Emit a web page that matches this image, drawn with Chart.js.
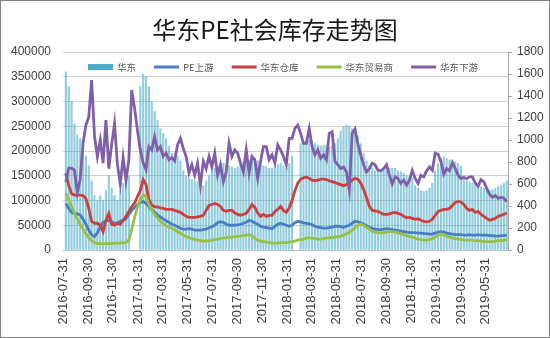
<!DOCTYPE html>
<html>
<head>
<meta charset="utf-8">
<script src="https://cdn.jsdelivr.net/npm/chart.js@4.4.1/dist/chart.umd.min.js"></script>
<style>
  html, body { margin: 0; padding: 0; background: #fff; }
  #wrap { width: 550px; height: 338px; box-sizing: border-box; border: 1px solid #808080; }
  canvas { display: block; }
</style>
</head>
<body>
<div id="wrap"><canvas id="stock" width="548" height="336"></canvas></div>
<script>
// weekly readings, first week 2016-08-07, one value per week
// 华东 total (bars, left axis); null = holiday weeks with no report
const huadong = [
  360000, 330000, 300000, 255000, 232000, 225000, 210000, 190000, 170000, 140000,
  110000, 100000, 110000, 100000, 120000, 150000, 125000, 110000, 100000, 120000,
  135000, 140000, 150000, null, null, null, 330000, 355000, 350000, 330000,
  300000, 280000, 262000, 245000, 235000, 225000, 210000, 195000, 195000, 190000,
  180000, 160000, 150000, 145000, 142000, 140000, 138000, 132000, 130000, 140000,
  150000, 160000, 165000, 168000, 172000, 175000, 172000, 170000, 168000, 165000,
  168000, 172000, 178000, 180000, 182000, 188000, 186000, 180000, 172000, 170000,
  168000, 165000, 165000, 170000, 172000, 175000, 170000, 165000, 175000, 190000,
  null, null, 215000, 218000, 220000, 222000, 218000, 215000, 212000, 210000,
  212000, 210000, 208000, 210000, 215000, 225000, 240000, 248000, 252000, 250000,
  245000, 238000, 230000, 215000, 195000, 180000, 170000, 165000, 160000, 158000,
  160000, 162000, 165000, 165000, 165000, 165000, 160000, 158000, 155000, 150000,
  148000, 145000, 130000, 125000, 120000, 118000, 120000, 125000, 135000, 160000,
  175000, 185000, 188000, 185000, 182000, 180000, 178000, 175000, 170000, 150000,
  140000, 138000, 135000, 133000, 130000, 128000, 125000, 122000, 120000, 122000,
  125000, 128000, 130000, 135000, 140000
];

// PE上游
const upstream = [
  94000, 84000, 76000, 74000, 73000, 71000, 62000, 52000, 40000, 31000,
  27000, 35000, 47000, 56000, 58000, 60000, 57000, 54000, 55000, 58000,
  60000, 63000, 72000, 80000, 86000, 92000, 96000, 98000, 94000, 88000,
  82000, 76000, 71000, 67000, 63000, 59000, 56000, 52000, 50000, 47000,
  44000, 42000, 42000, 43000, 42000, 40000, 40000, 40000, 41000, 42000,
  45000, 47000, 50000, 55000, 57000, 56000, 52000, 50000, 50000, 50000,
  51000, 52000, 54000, 56000, 60000, 58000, 55000, 52000, 48000, 46000,
  45000, 44000, 43000, 48000, 52000, 54000, 52000, 50000, 48000, 50000,
  55000, 58000, 57000, 55000, 54000, 53000, 51000, 48000, 46000, 45000,
  44000, 44000, 45000, 46000, 48000, 48000, 47000, 46000, 48000, 50000,
  54000, 58000, 57000, 55000, 52000, 49000, 46000, 44000, 42000, 41000,
  41000, 42000, 43000, 42000, 41000, 40000, 39000, 38000, 37000, 36000,
  35000, 35000, 35000, 34000, 34000, 33000, 33000, 32000, 32000, 34000,
  36000, 37000, 36000, 34000, 33000, 32000, 31000, 31000, 31000, 30000,
  30000, 31000, 30000, 30000, 31000, 30000, 30000, 30000, 29000, 29000,
  28000, 28000, 29000, 29000, 30000
];

// 华东仓库
const warehouse = [
  155000, 130000, 114000, 111000, 111000, 111000, 110000, 104000, 84000, 58000,
  54000, 54000, 50000, 37000, 60000, 74000, 52000, 50000, 54000, 52000,
  60000, 68000, 78000, 88000, 95000, 108000, 120000, 142000, 132000, 102000,
  91000, 87000, 87000, 85000, 84000, 82000, 82000, 82000, 80000, 78000,
  76000, 72000, 68000, 66000, 66000, 66000, 67000, 68000, 70000, 80000,
  90000, 92000, 94000, 92000, 88000, 80000, 78000, 80000, 80000, 75000,
  72000, 70000, 72000, 74000, 82000, 92000, 86000, 75000, 68000, 72000,
  68000, 70000, 70000, 78000, 82000, 88000, 80000, 76000, 85000, 100000,
  120000, 135000, 143000, 146000, 147000, 145000, 141000, 140000, 141000, 143000,
  143000, 142000, 140000, 138000, 136000, 134000, 132000, 130000, 132000, 136000,
  141000, 145000, 143000, 135000, 122000, 106000, 88000, 80000, 79000, 78000,
  75000, 72000, 72000, 73000, 75000, 76000, 74000, 72000, 68000, 65000,
  66000, 64000, 62000, 63000, 60000, 58000, 57000, 58000, 62000, 70000,
  78000, 80000, 82000, 82000, 84000, 90000, 96000, 98000, 97000, 92000,
  84000, 80000, 82000, 76000, 78000, 72000, 68000, 64000, 60000, 62000,
  64000, 68000, 70000, 72000, 75000
];

// 华东贸易商
const traders = [
  114000, 100000, 87000, 74000, 63000, 52000, 42000, 33000, 25000, 19000,
  15000, 13000, 13000, 13000, 13000, 13000, 13000, 14000, 14000, 14000,
  15000, 15000, 20000, 42000, 66000, 86000, 102000, 111000, 108000, 92000,
  80000, 72000, 65000, 58000, 53000, 49000, 46000, 44000, 41000, 37000,
  34000, 30000, 27000, 25000, 23000, 21000, 20000, 19000, 18000, 18000,
  19000, 20000, 21000, 22000, 23000, 24000, 25000, 26000, 26000, 27000,
  27000, 28000, 29000, 30000, 31000, 29000, 23000, 20000, 18000, 17000,
  16000, 15000, 14000, 14000, 14000, 15000, 15000, 15000, 16000, 17000,
  18000, 20000, 21000, 22000, 24000, 25000, 24000, 23000, 22000, 22000,
  23000, 24000, 25000, 25000, 26000, 27000, 28000, 30000, 33000, 36000,
  40000, 45000, 50000, 52000, 50000, 46000, 42000, 38000, 36000, 35000,
  34000, 35000, 36000, 37000, 37000, 36000, 35000, 33000, 31000, 29000,
  27000, 26000, 24000, 22000, 21000, 20000, 20000, 21000, 23000, 26000,
  30000, 32000, 31000, 28000, 26000, 24000, 23000, 22000, 21000, 20000,
  20000, 20000, 20000, 19000, 19000, 18000, 17000, 17000, 17000, 17000,
  18000, 19000, 19000, 20000, 21000
];

// 华东下游 (right axis)
const downstream = [
  620, 745, 745, 725, 520, 640, 970, 1135, 1210, 1545,
  1040, 850, 1000, 790, 1180, 740, 960, 1150, 780, 600,
  840, 630, 820, 1455, 1290, 1090, 910, 790, 730, 940,
  910, 1030, 910, 940, 850, 880, 820, 840, 810, 955,
  1015, 925, 850, 700, 775, 680, 790, 590, 805, 740,
  850, 755, 880, 680, 775, 620, 710, 970, 850, 910,
  880, 790, 710, 910, 700, 850, 820, 650, 805, 940,
  940, 820, 865, 790, 955, 910, 850, 775, 1015, 1015,
  1105, 1135, 1060, 970, 970, 1105, 940, 865, 910, 835,
  865, 820, 1060, 1075, 805, 775, 740, 755, 710, 545,
  1060, 1100, 960, 860, 775, 710, 740, 790, 775, 725,
  720, 740, 775, 680, 600, 665, 650, 605, 635, 590,
  635, 725, 650, 605, 680, 665, 720, 755, 725, 880,
  870, 805, 690, 740, 720, 795, 740, 680, 650, 660,
  650, 665, 665, 610, 580, 640, 620, 560, 505, 480,
  495, 470, 480, 470, 440
];

const tickLabels = [
  '2016-07-31', '2016-09-30', '2016-11-30', '2017-01-31', '2017-03-31', '2017-05-31',
  '2017-07-31', '2017-09-30', '2017-11-30', '2018-01-31', '2018-03-31', '2018-05-31',
  '2018-07-31', '2018-09-30', '2018-11-30', '2019-01-31', '2019-03-31', '2019-05-31'
];

// x axis counts days from 2016-07-31
const dayOf = s => {
  const [y, m, d] = s.split('-').map(Number);
  return (Date.UTC(y, m - 1, d) - Date.UTC(2016, 6, 31)) / 86400000;
};
const firstDay = 7;
const pts = arr => arr.map((v, i) => ({ x: firstDay + 7 * i, y: v }));

Chart.defaults.font.family = "'Liberation Sans', 'Noto Sans CJK SC', sans-serif";
Chart.defaults.color = '#404040';
const cjk = "'Noto Sans CJK SC', sans-serif";

// legend row drawn inside the plot, over the top band
const insideLegend = {
  id: 'insideLegend',
  afterDraw(chart) {
    const { ctx, chartArea } = chart;
    const sets = chart.data.datasets;
    ctx.save();
    ctx.font = '9.5px ' + cjk;
    ctx.textBaseline = 'middle';
    const swatch = 25, gapText = 4, gapItem = 18;
    let x = chartArea.left + 25;
    const y = chartArea.top + 15;
    sets.forEach(ds => {
      if (ds.type === 'line') {
        ctx.fillStyle = ds.borderColor;
        ctx.fillRect(x, y - 1.5, swatch, 3);
      } else {
        ctx.fillStyle = ds.legendColor;
        ctx.fillRect(x, y - 3, swatch, 6);
      }
      ctx.fillStyle = '#595959';
      ctx.fillText(ds.label, x + swatch + gapText, y);
      x += swatch + gapText + ctx.measureText(ds.label).width + gapItem;
    });
    ctx.restore();
  }
};

const lineSet = (label, data, color, axis, order) => ({
  type: 'line', label, data, borderColor: color, backgroundColor: color,
  borderWidth: 2.8, pointRadius: 0, tension: 0, yAxisID: axis, order
});

new Chart(document.getElementById('stock'), {
  type: 'bar',
  data: {
    datasets: [
      { type: 'bar', label: '华东', data: pts(huadong), backgroundColor: 'rgba(75,172,198,0.6)',
        legendColor: '#4bacc6', barThickness: 1.5, yAxisID: 'y', order: 5 },
      lineSet('PE上游', pts(upstream), '#4a7ec4', 'y', 4),
      lineSet('华东仓库', pts(warehouse), '#cc3f3f', 'y', 3),
      lineSet('华东贸易商', pts(traders), '#96c046', 'y', 2),
      lineSet('华东下游', pts(downstream), '#7f5fa8', 'y1', 1)
    ]
  },
  options: {
    responsive: false,
    animation: false,
    layout: { padding: 0 },
    plugins: {
      legend: { display: false },
      tooltip: { enabled: false },
      title: {
        display: true,
        text: '华东PE社会库存走势图',
        color: '#1a1a1a',
        font: { family: cjk, size: 24, weight: 'normal' },
        padding: { top: 14, bottom: 8.2 }
      }
    },
    scales: {
      x: {
        type: 'linear',
        min: 0,
        max: 1088,
        offset: false,
        grid: { display: false, drawTicks: false },
        border: { display: true, color: '#bfbfbf' },
        afterBuildTicks: s => { s.ticks = tickLabels.map(t => ({ value: dayOf(t) })); },
        ticks: {
          autoSkip: false, minRotation: 90, maxRotation: 90, padding: 8,
          font: { size: 13 },
          callback: (v, i) => tickLabels[i]
        },
        afterFit: s => { s.height = 87; }
      },
      y: {
        position: 'left',
        min: 0,
        max: 400000,
        grid: { color: '#d0d0d0', drawTicks: false },
        border: { display: false },
        ticks: { stepSize: 50000, padding: 12, font: { size: 12 }, callback: v => String(v) },
        afterFit: s => { s.width = 62; }
      },
      y1: {
        position: 'right',
        min: 0,
        max: 1800,
        grid: { drawOnChartArea: false, color: '#a6a6a6', tickLength: 4 },
        border: { display: true, color: '#a6a6a6' },
        ticks: { stepSize: 200, padding: 5, font: { size: 12 }, callback: v => String(v) },
        afterFit: s => { s.width = 41; }
      }
    }
  },
  plugins: [insideLegend]
});
</script>
</body>
</html>
